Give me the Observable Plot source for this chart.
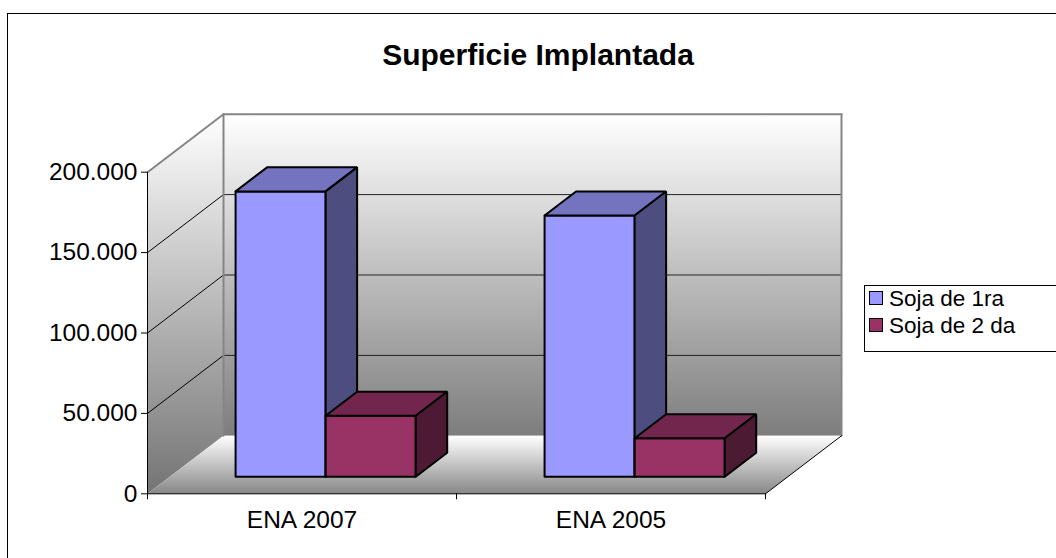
<!DOCTYPE html>
<html><head><meta charset="utf-8">
<script src="https://cdn.jsdelivr.net/npm/d3@7"></script>
<script src="https://cdn.jsdelivr.net/npm/@observablehq/plot@0.6"></script>
<style>
html,body{margin:0;padding:0;background:#fff;}
#wrap{position:relative;width:1056px;height:558px;overflow:hidden;font-family:Arial,"Liberation Sans",sans-serif;color:#000;}
#frame{position:absolute;left:7px;top:13px;width:1120px;height:620px;border:1px solid #000;box-sizing:border-box;}
#chart{position:absolute;left:0;top:0;}
#title{position:absolute;left:0;width:1076px;top:37px;text-align:center;font-weight:bold;font-size:30px;line-height:36px;}
#legend{position:absolute;left:864px;top:285px;width:240px;height:67px;border:1px solid #000;background:#fff;font-size:22.5px;box-sizing:border-box;}
.li{position:absolute;left:4px;height:26px;line-height:26px;white-space:nowrap;}
.sw{display:inline-block;width:12px;height:12px;border:1px solid #000;vertical-align:middle;margin-right:6px;position:relative;top:-2px;}
</style></head>
<body>
<div id="wrap">
  <div id="frame"></div>
  <div id="chart"></div>
  <div id="title"></div>
  <div id="legend"></div>
</div>
<script>
// ---- data ----
const categories = ["ENA 2007", "ENA 2005"];
const seriesNames = ["Soja de 1ra", "Soja de 2 da"];
const soja1ra = [177500, 162500];
const soja2da = [38000, 24000];
const yTicks = [0, 50000, 100000, 150000, 200000];
const titleText = "Superficie Implantada";

// ---- styling / geometry ----
const seriesValues = [soja1ra, soja2da];
const faceColors = [
  {front: "#9999FF", top: "#7373BF", side: "#4D4D80"},
  {front: "#993366", top: "#73264D", side: "#4D1A33"}
];
const YMAX = 200000;
const DX = 76 / 309;          // oblique depth offset (category units)
const DY = 58 / 321.6 * YMAX; // oblique depth offset (value units)
const D0 = 0.293, D1 = 0.707; // bar depth span
const GROUP_OFF = 0.213, BAR_W = 0.2915;

const P = (x, v, d) => ({x: x + d * DX, y: v + d * DY});

function poly(id, pts) {
  const arr = pts.map(p => ({...p, id}));
  arr.push({...pts[0], id});
  return arr;
}

// walls
const backWall = poly("back", [P(0,0,1), P(2,0,1), P(2,YMAX,1), P(0,YMAX,1)]);
const leftWall = poly("left", [P(0,0,0), P(0,0,1), P(0,YMAX,1), P(0,YMAX,0)]);
const floor = poly("floor", [P(0,0,0), P(2,0,0), P(2,0,1), P(0,0,1)]);

const seg = (id, a, b) => [{...a, id}, {...b, id}];
const innerTicks = yTicks.filter(t => t > 0 && t < YMAX);
const backGrid = innerTicks.flatMap(t => seg("bg" + t, P(0,t,1), P(2,t,1)));
const leftGrid = innerTicks.flatMap(t => seg("lg" + t, P(0,t,0), P(0,t,1)));
const wallEdges = [
  ...seg("e1", P(0,YMAX,0), P(0,YMAX,1)),
  ...seg("e2", P(0,YMAX,1), P(2,YMAX,1)),
  ...seg("e3", P(2,YMAX,1), P(2,0,1)),
  ...seg("e4", P(0,0,1), P(0,YMAX,1))
];
const blackEdges = [
  ...seg("f1", P(2,0,0), P(2,0,1)),
  ...seg("f2", P(0,0,0), P(2,0,0)),
  ...seg("f3", P(0,0,0), P(0,YMAX,0))
];

// bar faces
const faces = {};
seriesValues.forEach((vals, s) => {
  ["front","top","side"].forEach(f => faces[s + f] = []);
  vals.forEach((v, i) => {
    const x0 = i + GROUP_OFF + s * BAR_W, x1 = x0 + BAR_W;
    faces[s+"front"].push(...poly(`fr${s}${i}`, [P(x0,0,D0), P(x1,0,D0), P(x1,v,D0), P(x0,v,D0)]));
    faces[s+"top"].push(...poly(`tp${s}${i}`, [P(x0,v,D0), P(x1,v,D0), P(x1,v,D1), P(x0,v,D1)]));
    faces[s+"side"].push(...poly(`sd${s}${i}`, [P(x1,0,D0), P(x1,0,D1), P(x1,v,D1), P(x1,v,D0)]));
  });
});

const fmt = d => d === 0 ? "0" : d3.format(",")(d).replace(/,/g, ".");

function defsMark() {
  const g = d3.create("svg:g");
  const defs = g.append("defs");
  const mk = (id, c0, c1) => {
    const lg = defs.append("linearGradient").attr("id", id)
      .attr("x1", 0).attr("y1", 0).attr("x2", 0).attr("y2", 1);
    lg.append("stop").attr("offset", "0%").attr("stop-color", c0);
    lg.append("stop").attr("offset", "100%").attr("stop-color", c1);
  };
  mk("wallGrad", "#ffffff", "#7d7d7d");
  mk("leftGrad", "#ffffff", "#747474");
  mk("floorGrad", "#ffffff", "#878787");
  return g.node();
}

const L = (data, opts) => Plot.line(data, {x: "x", y: "y", z: "id", curve: "linear", ...opts});

const barMarks = [];
[0, 1].forEach(s => {
  ["front","top","side"].forEach(f => {
    barMarks.push(L(faces[s+f], {fill: faceColors[s][f], stroke: "#000", strokeWidth: 2, strokeLinejoin: "miter"}));
  });
});

const chart = Plot.plot({
  width: 1056,
  height: 558,
  marginLeft: 147,
  marginRight: 291,
  marginTop: 171.7,
  marginBottom: 558 - 493.3,
  x: {domain: [0, 2]},
  y: {domain: [0, YMAX]},
  style: {fontFamily: "Arial, 'Liberation Sans', sans-serif", color: "#000", background: "transparent", overflow: "visible"},
  marks: [
    defsMark,
    L(backWall, {fill: "url(#wallGrad)", stroke: "none"}),
    L(leftWall, {fill: "url(#leftGrad)", stroke: "none"}),
    L(floor, {fill: "url(#floorGrad)", stroke: "none"}),
    L(backGrid, {stroke: "#222", strokeWidth: 1}),
    L(leftGrid, {stroke: "#000", strokeWidth: 1}),
    L(wallEdges, {stroke: "#858585", strokeWidth: 2}),
    L(blackEdges, {stroke: "#000", strokeWidth: 1}),
    ...barMarks,
    Plot.axisY({ticks: yTicks, tickFormat: fmt, tickSize: 6, tickPadding: 4, fontSize: 24.5, label: null, stroke: "#000"}),
    Plot.axisX({ticks: [0, 1, 2], tickFormat: () => "", tickSize: 6, label: null, stroke: "#000"}),
    Plot.axisX({ticks: [0.5, 1.5], tickFormat: d => categories[Math.floor(d)], tickSize: 0, tickPadding: 17, fontSize: 24.5, label: null})
  ]
});
document.getElementById("chart").appendChild(chart);

document.getElementById("title").textContent = titleText;
const leg = document.getElementById("legend");
seriesNames.forEach((name, s) => {
  const row = document.createElement("div");
  row.className = "li";
  row.style.top = (0 + s * 27) + "px";
  const sw = document.createElement("span");
  sw.className = "sw";
  sw.style.background = faceColors[s].front;
  row.appendChild(sw);
  row.appendChild(document.createTextNode(name));
  leg.appendChild(row);
});
</script>
</body></html>
